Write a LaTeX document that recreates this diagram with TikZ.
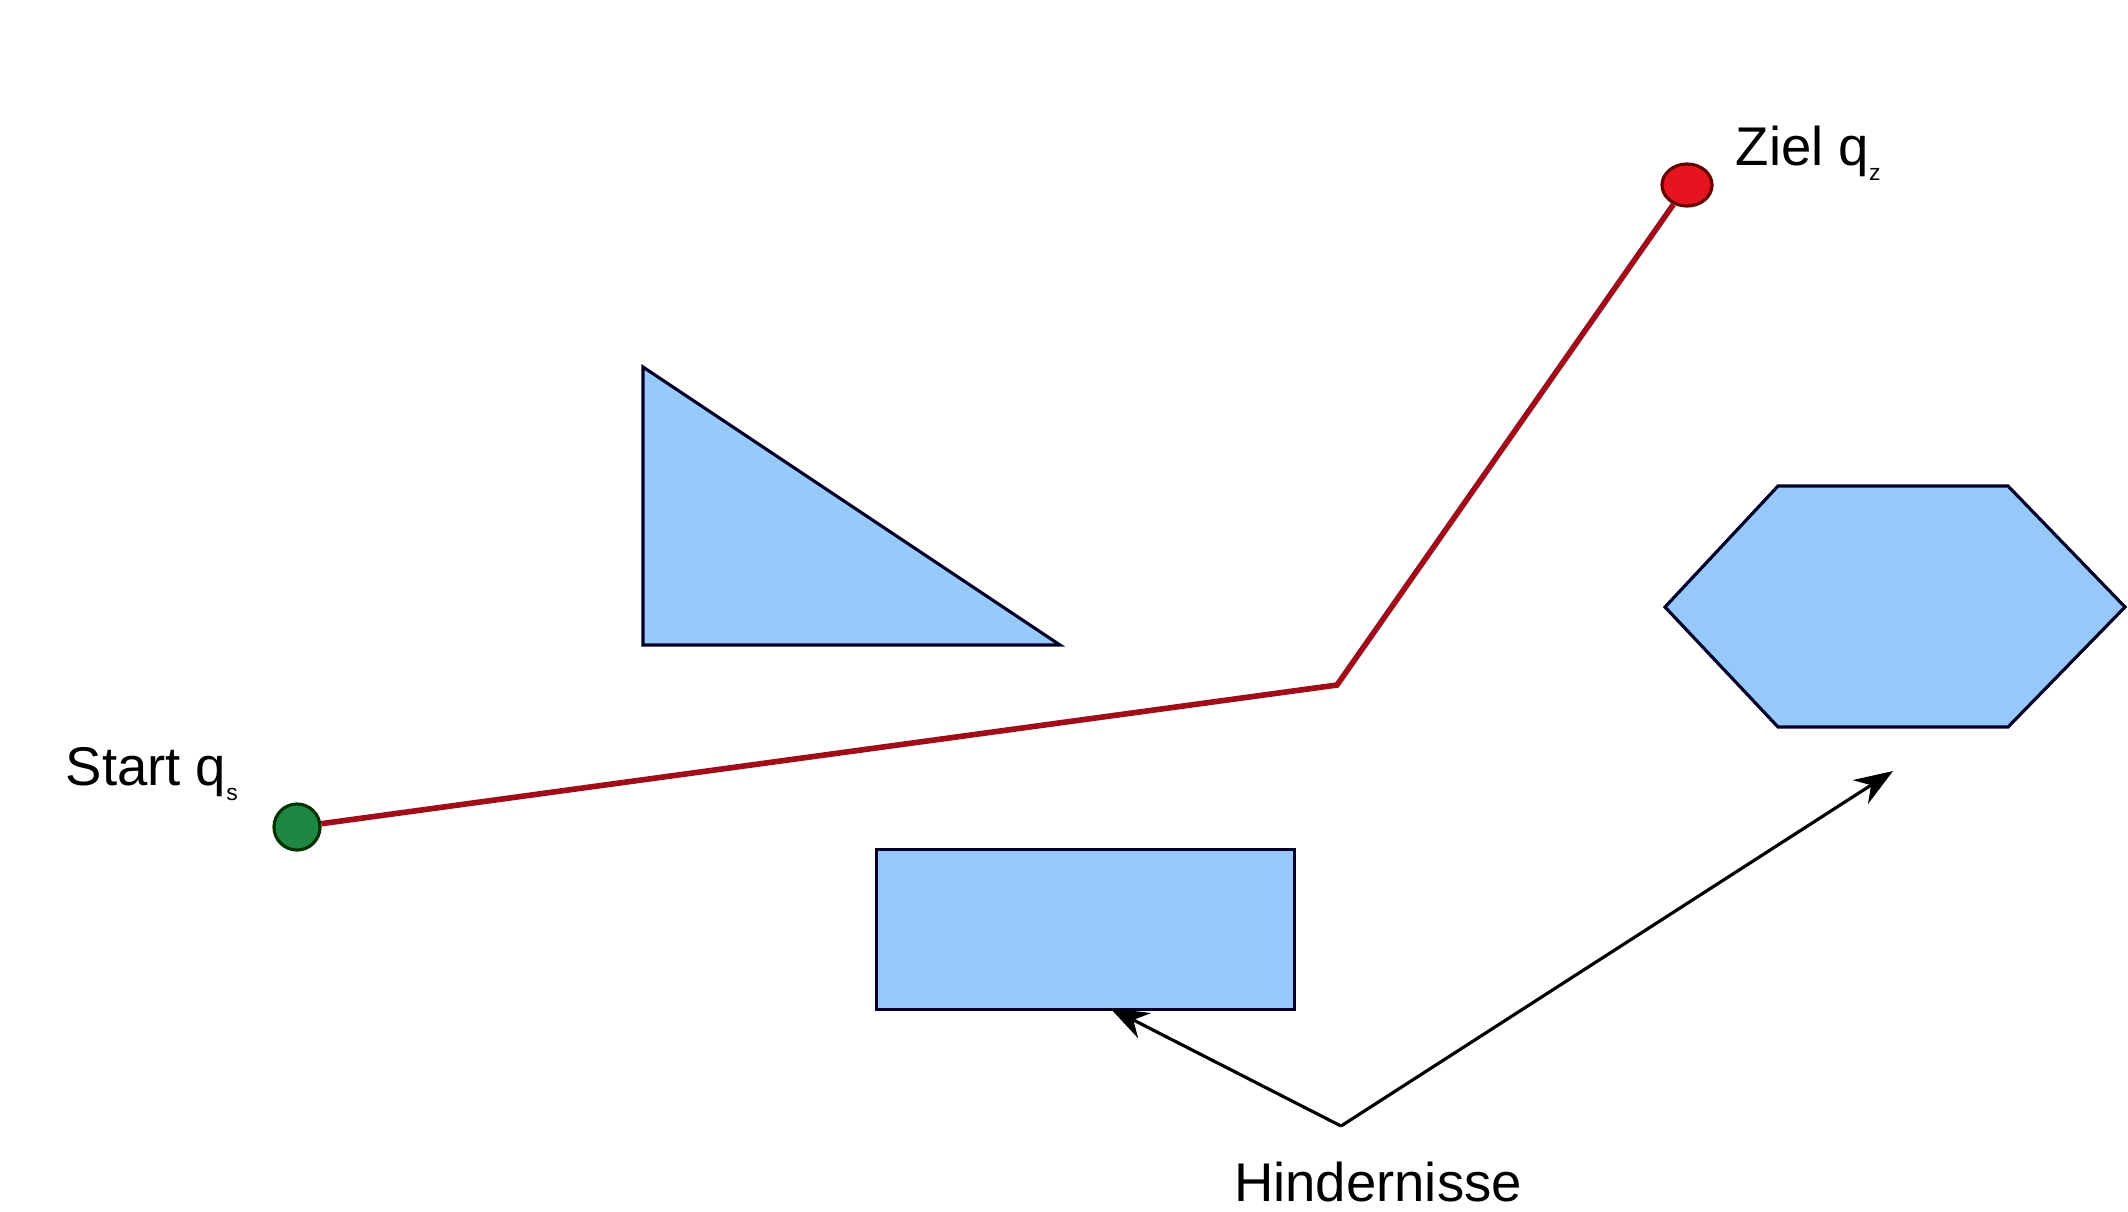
\documentclass[tikz,border=0pt]{standalone}
\usepackage{fontspec}
\setmainfont{Liberation Sans}
\usetikzlibrary{arrows.meta,shapes.geometric}
\definecolor{obst}{RGB}{150,200,250}
\definecolor{pathred}{RGB}{160,12,24}
\definecolor{startgreen}{RGB}{30,135,70}
\definecolor{zielred}{RGB}{230,20,30}
\tikzset{
  obstacle/.style={draw=black!85!blue, fill=obst, line width=0.9pt, line join=miter},
  lbl/.style={font=\fontsize{15.5}{18}\selectfont, inner sep=0pt},
  pointer/.style={draw=black, line width=0.9pt, -{Stealth[length=11pt,width=8pt]}},
  route/.style={draw=pathred, line width=1.6pt},
}
\newcommand{\subsmall}[1]{\raisebox{-0.55ex}{\fontsize{6.5}{6.5}\selectfont #1}}
\begin{document}
\begin{tikzpicture}[x=0.01cm,y=-0.01cm]
\useasboundingbox (0,0) rectangle (2128,1211);
% obstacles
\draw[obstacle] (643,367) -- (1060,645) -- (643,645) -- cycle;
\node[obstacle, draw, minimum width=4.18cm, minimum height=1.6cm, inner sep=0pt, anchor=north west] (rect) at (875,848) {};
\draw[obstacle] (1778,486) -- (2008,486) -- (2125,607) -- (2008,727) -- (1778,727) -- (1665,607) -- cycle;
% start and goal
\node[circle, draw=black!80!green, fill=startgreen, line width=0.9pt, minimum size=0.46cm, inner sep=0pt] (start) at (297,827) {};
\node[ellipse, draw=black!60!red, fill=zielred, line width=0.9pt, minimum width=0.5cm, minimum height=0.42cm, inner sep=0pt] (ziel) at (1687,185) {};
\coordinate (bend) at (1337,685);
\draw[route] (start) -- (bend) -- (ziel);
% labels
\node[lbl, anchor=base west] (startlbl) at (65,785) {Start q\subsmall{s}};
\node[lbl, anchor=base west] (ziellbl) at (1735,165) {Ziel q\subsmall{z}};
\node[lbl, anchor=base] (hind) at (1378,1201) {Hindernisse};
% pointers
\coordinate (apex) at (1341,1126);
\coordinate (recttarget) at (1110,1008);
\coordinate (hextarget) at (1893,771);
\draw[pointer] (apex) -- (recttarget);
\draw[pointer] (apex) -- (hextarget);
\end{tikzpicture}
\end{document}
